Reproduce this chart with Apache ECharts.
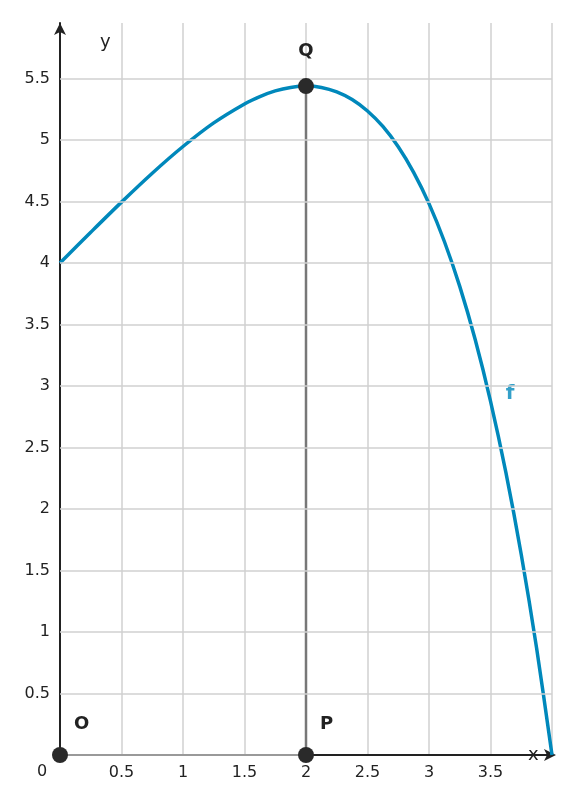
<!DOCTYPE html>
<html><head><meta charset="utf-8">
<script src="https://cdn.jsdelivr.net/npm/echarts@6/dist/echarts.min.js"></script>
<style>html,body{margin:0;padding:0;background:#fff}#c{width:569px;height:803px}</style>
</head><body><div id="c"></div>
<script>
const curveX = [0,0.25,0.5,0.75,1,1.25,1.5,1.625,1.75,1.875,2,2.125,2.25,2.375,2.5,2.625,2.75,2.875,3,3.125,3.25,3.375,3.5,3.625,3.75,3.875,4];
const curveY = [4,4.249,4.494,4.729,4.946,5.138,5.292,5.352,5.398,5.426,5.437,5.426,5.390,5.328,5.235,5.109,4.944,4.736,4.482,4.174,3.809,3.379,2.877,2.297,1.630,0.868,0];
const yTicks = [0.5,1,1.5,2,2.5,3,3.5,4,4.5,5,5.5];
const points = [{name:'O',x:0,y:0},{name:'P',x:2,y:0},{name:'Q',x:2,y:5.437}];
const fLabel = {text:'f', x:3.66, y:2.94};
const font = 'DejaVu Sans';
const chart = echarts.init(document.getElementById('c'));
chart.setOption({
  animation:false,
  grid:{left:60,right:17,top:23,bottom:48},
  xAxis:{type:'value',min:0,max:4,interval:0.5,
    name:'x',nameLocation:'end',nameGap:-24,nameTextStyle:{fontFamily:font,fontSize:18,color:'#222',padding:[0,0,40,0]},
    axisLine:{lineStyle:{color:'#222',width:2},symbol:['none','arrow'],symbolSize:[9,12],symbolOffset:[0,4]},
    axisTick:{show:false},
    axisLabel:{fontFamily:font,fontSize:16,color:'#222',margin:10,formatter:v=>(v===0||v>=4)?'':String(v)},
    splitLine:{lineStyle:{color:'#d0d0d0',width:1.5}}},
  yAxis:{type:'value',min:0,max:5.95,interval:0.5,
    name:'y',nameLocation:'end',nameGap:-10,nameTextStyle:{fontFamily:font,fontSize:18,color:'#222',align:'left',padding:[0,0,-18,40]},
    axisLine:{lineStyle:{color:'#222',width:2},symbol:['none','arrow'],symbolSize:[9,12],symbolOffset:[0,0]},
    axisTick:{show:false},
    axisLabel:{fontFamily:font,fontSize:16,color:'#222',margin:10,formatter:v=>(v===0||v%0.5!==0)?'':String(v)},
    splitLine:{show:false}},
  graphic:[{type:'text',left:37,top:764,style:{text:'0',font:'16px "DejaVu Sans"',fill:'#222'}}],
  series:[
    {type:'line',data:[[0,0],[4,0]],symbol:'none',lineStyle:{opacity:0},silent:true,
      markLine:{silent:true,symbol:'none',label:{show:false},lineStyle:{color:'#d0d0d0',width:1.5,type:'solid'},
        data:yTicks.map(v=>({yAxis:v}))}},
    {type:'line',data:[[points[0].x,points[0].y],[points[1].x,points[1].y]],symbol:'none',lineStyle:{color:'#999',width:2}},
    {type:'line',data:[[points[1].x,points[1].y],[points[2].x,points[2].y]],symbol:'none',lineStyle:{color:'#777',width:2.5}},
    {type:'line',smooth:0.3,symbol:'none',data:curveX.map((x,i)=>[x,curveY[i]]),lineStyle:{color:'#0088bb',width:3.5}},
    {type:'scatter',symbolSize:16,itemStyle:{color:'#2a2a2a',opacity:1},z:5,
      data:points.map(p=>({value:[p.x,p.y],name:p.name,label:{show:true,formatter:p.name,fontFamily:font,fontWeight:'bold',fontSize:18,color:'#222',
        position:p.name==='Q'?'top':[22,-32],distance:18}}))},
    {type:'scatter',symbolSize:0,data:[[fLabel.x,fLabel.y]],
      label:{show:true,formatter:fLabel.text,position:'inside',fontFamily:font,fontWeight:'bold',fontSize:20,color:'#0088bb'}}
  ]
});
</script></body></html>
